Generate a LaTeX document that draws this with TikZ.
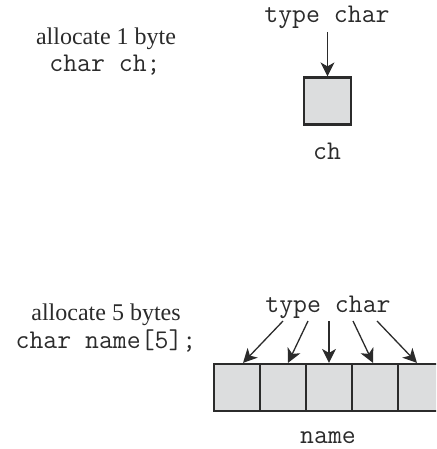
\documentclass[tikz,border=0pt]{standalone}
\usepackage{fontspec}
\setmainfont{Liberation Serif}
\usetikzlibrary{arrows.meta}
\definecolor{cellfill}{HTML}{DCDDDE}
\definecolor{ink}{HTML}{2B2B2B}
\begin{document}
\begin{tikzpicture}[x=1pt,y=-1pt,
  serif/.style={font=\fontsize{24}{28}\selectfont\rmfamily, text=ink, anchor=base, inner sep=0pt},
  mono/.style={font=\fontsize{27}{30}\selectfont\ttfamily, text=ink, anchor=base, inner sep=0pt},
  cell/.style={draw=ink, line width=2.2pt, fill=cellfill, minimum width=46pt, minimum height=47pt, inner sep=0pt},
  ptr/.style={draw=ink, line width=1.3pt, -{Stealth[length=14pt,width=14pt,inset=4pt]}}]
\useasboundingbox (0,0) rectangle (436,449);
\clip (0,0) rectangle (436,449);
% single char
\node[serif] (a1) at (106,45) {allocate 1 byte};
\node[mono] (d1) at (105,72) {char ch;};
\node[mono] (t1) at (327,23) {type char};
\node[cell, minimum width=47pt] (b1) at (327.5,101) {};
\node[mono] (n1) at (327,160) {ch};
\coordinate (p0) at (327.5,32);
\draw[ptr] (p0) -- (b1.north);
% array
\node[serif] (a2) at (106,320) {allocate 5 bytes};
\node[mono] (d2) at (106,348) {char name[5];};
\node[mono] (t2) at (328,312) {type char};
\node[cell] (c1) at (237,387.5) {};
\node[cell] (c2) at (283,387.5) {};
\node[cell] (c3) at (329,387.5) {};
\node[cell] (c4) at (375,387.5) {};
\node[cell] (c5) at (421,387.5) {};
\node[mono] (n2) at (328,443) {name};
\coordinate (s1) at (283,321);
\coordinate (s2) at (308,321);
\coordinate (s3) at (329,321);
\coordinate (s4) at (353,321);
\coordinate (s5) at (377,321);
\draw[ptr] (s1) -- ([xshift=6pt]c1.north);
\draw[ptr] (s2) -- ([xshift=5pt]c2.north);
\draw[ptr] (s3) -- (c3.north);
\draw[ptr] (s4) -- ([xshift=-2pt]c4.north);
\draw[ptr] (s5) -- ([xshift=-4pt]c5.north);
\end{tikzpicture}
\end{document}
